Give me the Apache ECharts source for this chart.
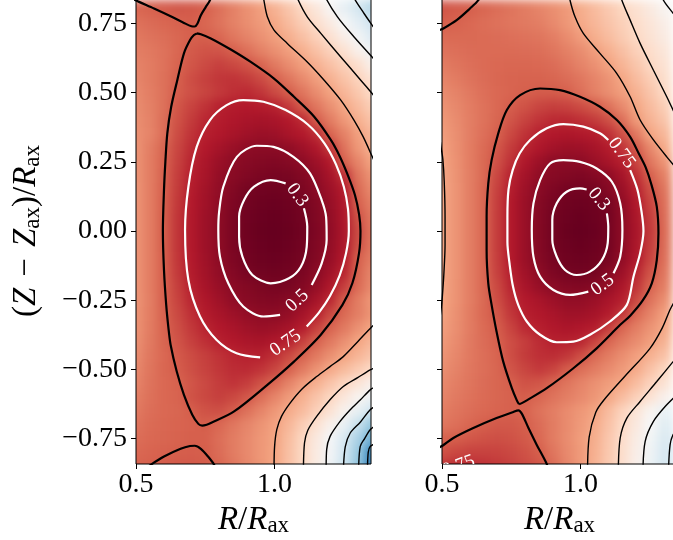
<!DOCTYPE html>
<html><head><meta charset="utf-8">
<script src="https://cdn.jsdelivr.net/npm/echarts@6/dist/echarts.min.js"></script>
<style>
html,body{margin:0;padding:0;background:#fff;}
#wrap{position:relative;width:673px;height:540px;overflow:hidden;background:#fff;}
.clip{position:absolute;overflow:hidden;}
.heat{position:absolute;width:673px;height:540px;filter:blur(5px);}
#topLayer{position:absolute;left:0;top:0;width:673px;height:540px;}
</style></head><body>
<div id="wrap">
  <div class="clip" style="left:136px;top:0;width:235px;height:464px;"><div class="heat" id="heatL" style="left:-136px;top:0;"></div></div>
  <div class="clip" style="left:442px;top:0;width:231px;height:464px;"><div class="heat" id="heatR" style="left:-442px;top:0;"></div></div>
  <div id="topLayer"></div>
</div>
<script>
// ---------------- data ----------------
const rCenters = [0.50,0.55,0.60,0.65,0.70,0.75,0.80,0.85,0.90,0.95,1.00,1.05,1.10,1.15,1.20,1.25,1.30,1.35];
const zCenters = [0.85,0.80,0.75,0.70,0.65,0.60,0.55,0.50,0.45,0.40,0.35,0.30,0.25,0.20,0.15,0.10,0.05,0.00,
  -0.05,-0.10,-0.15,-0.20,-0.25,-0.30,-0.35,-0.40,-0.45,-0.50,-0.55,-0.60,-0.65,-0.70,-0.75,-0.80,-0.85];

const leftPsi = [
[0.98,0.95,0.93,0.92,0.93,0.98,1.08,1.21,1.35,1.48,1.67,1.87,2.09,2.33,2.57,2.82,3.07,3.30],
[1.06,1.02,0.98,0.95,0.96,1.01,1.12,1.24,1.35,1.46,1.62,1.80,1.98,2.20,2.45,2.69,2.92,3.17],
[1.13,1.09,1.05,1.02,0.995,1.05,1.14,1.24,1.33,1.42,1.53,1.70,1.87,2.05,2.27,2.50,2.74,2.99],
[1.18,1.14,1.10,1.05,1.00,0.99,1.05,1.16,1.25,1.35,1.45,1.58,1.74,1.90,2.09,2.32,2.55,2.82],
[1.22,1.18,1.13,1.05,0.96,0.91,0.92,1.00,1.11,1.23,1.34,1.45,1.59,1.75,1.91,2.10,2.35,2.60],
[1.25,1.20,1.13,1.03,0.93,0.85,0.78,0.83,0.91,1.03,1.18,1.32,1.45,1.60,1.75,1.90,2.06,2.35],
[1.27,1.20,1.12,1.00,0.87,0.78,0.71,0.69,0.74,0.85,1.00,1.15,1.30,1.45,1.61,1.77,1.93,2.12],
[1.30,1.22,1.12,0.98,0.89,0.81,0.73,0.66,0.62,0.70,0.85,0.99,1.15,1.32,1.48,1.65,1.82,2.00],
[1.32,1.24,1.12,0.93,0.80,0.68,0.56,0.52,0.50,0.52,0.56,0.73,0.97,1.16,1.34,1.52,1.70,1.88],
[1.33,1.25,1.10,0.90,0.74,0.60,0.53,0.48,0.44,0.42,0.44,0.50,0.62,0.98,1.20,1.40,1.59,1.77],
[1.35,1.26,1.10,0.86,0.69,0.55,0.49,0.43,0.38,0.34,0.36,0.43,0.50,0.64,1.03,1.24,1.46,1.66],
[1.37,1.22,1.04,0.82,0.63,0.50,0.41,0.33,0.26,0.24,0.24,0.27,0.36,0.48,0.72,1.13,1.40,1.60],
[1.37,1.21,1.03,0.79,0.58,0.45,0.34,0.25,0.215,0.185,0.175,0.20,0.25,0.36,0.50,1.02,1.26,1.49],
[1.37,1.21,1.02,0.76,0.55,0.43,0.30,0.225,0.17,0.13,0.11,0.12,0.18,0.28,0.42,0.66,1.15,1.37],
[1.38,1.21,1.01,0.74,0.53,0.39,0.28,0.18,0.10,0.07,0.06,0.075,0.14,0.23,0.36,0.52,1.07,1.30],
[1.38,1.21,1.00,0.72,0.51,0.38,0.26,0.155,0.08,0.04,0.026,0.05,0.095,0.18,0.32,0.48,1.01,1.22],
[1.38,1.21,0.99,0.70,0.50,0.36,0.25,0.13,0.063,0.026,0.007,0.03,0.08,0.165,0.29,0.46,0.90,1.17],
[1.38,1.21,0.99,0.70,0.49,0.36,0.245,0.13,0.054,0.012,0.0,0.017,0.066,0.15,0.28,0.45,0.85,1.15],
[1.38,1.21,0.99,0.70,0.50,0.36,0.25,0.13,0.065,0.027,0.007,0.03,0.08,0.165,0.29,0.46,0.88,1.16],
[1.38,1.21,1.00,0.71,0.51,0.37,0.255,0.155,0.08,0.04,0.026,0.05,0.095,0.18,0.32,0.50,1.00,1.20],
[1.38,1.21,1.00,0.73,0.52,0.39,0.28,0.19,0.11,0.073,0.06,0.08,0.13,0.23,0.38,0.58,1.04,1.27],
[1.38,1.21,1.01,0.77,0.55,0.425,0.32,0.235,0.185,0.14,0.11,0.12,0.185,0.30,0.47,0.76,1.08,1.30],
[1.38,1.22,1.01,0.80,0.60,0.47,0.37,0.275,0.22,0.185,0.17,0.21,0.275,0.42,0.61,0.98,1.20,1.40],
[1.37,1.21,1.02,0.84,0.66,0.52,0.435,0.36,0.29,0.25,0.245,0.29,0.41,0.55,0.83,1.07,1.22,1.38],
[1.36,1.20,1.03,0.88,0.72,0.58,0.50,0.44,0.375,0.33,0.35,0.42,0.53,0.77,1.03,1.18,1.35,1.50],
[1.35,1.19,1.04,0.92,0.78,0.66,0.555,0.50,0.45,0.43,0.48,0.56,0.78,1.02,1.18,1.34,1.50,1.67],
[1.32,1.17,1.06,0.96,0.86,0.77,0.68,0.60,0.56,0.56,0.66,0.83,1.02,1.18,1.34,1.49,1.64,1.79],
[1.29,1.15,1.05,0.98,0.88,0.79,0.71,0.64,0.625,0.69,0.81,1.01,1.19,1.36,1.54,1.69,1.84,1.99],
[1.26,1.14,1.06,1.02,0.93,0.84,0.75,0.69,0.76,0.90,1.06,1.25,1.43,1.60,1.78,1.95,2.15,2.37],
[1.22,1.12,1.06,1.03,0.90,0.83,0.77,0.83,0.94,1.10,1.26,1.42,1.60,1.78,1.96,2.20,2.42,2.65],
[1.18,1.10,1.06,1.04,0.99,0.90,0.88,0.98,1.12,1.26,1.40,1.56,1.70,1.90,2.13,2.40,2.70,3.00],
[1.14,1.08,1.05,1.03,1.01,0.99,1.06,1.17,1.27,1.37,1.48,1.66,1.87,2.10,2.37,2.69,3.07,3.46],
[1.10,1.06,1.04,1.02,1.00,1.00,1.10,1.20,1.30,1.40,1.49,1.72,1.96,2.24,2.52,2.89,3.29,3.70],
[1.06,1.03,1.01,0.99,0.98,0.99,1.09,1.20,1.30,1.40,1.50,1.74,1.97,2.27,2.57,2.96,3.41,4.10],
[1.02,1.00,0.97,0.95,0.95,0.97,1.05,1.16,1.28,1.39,1.51,1.75,1.98,2.28,2.61,3.02,3.47,4.20]
];

const rightPsi = [
[0.86,0.89,0.94,1.01,1.08,1.15,1.23,1.31,1.38,1.47,1.60,1.73,1.87,2.00,2.17,2.34,2.50,2.67],
[0.93,0.97,1.00,1.05,1.10,1.15,1.20,1.26,1.33,1.42,1.57,1.70,1.83,1.96,2.10,2.25,2.42,2.58],
[0.99,1.02,1.06,1.10,1.13,1.16,1.19,1.22,1.30,1.40,1.54,1.66,1.78,1.90,2.03,2.18,2.32,2.47],
[1.08,1.07,1.07,1.08,1.09,1.11,1.13,1.15,1.21,1.31,1.43,1.58,1.71,1.85,1.98,2.13,2.27,2.41],
[1.14,1.11,1.09,1.08,1.08,1.08,1.09,1.10,1.15,1.23,1.32,1.44,1.59,1.74,1.90,2.04,2.19,2.34],
[1.20,1.15,1.11,1.08,1.06,1.05,1.05,1.06,1.09,1.16,1.25,1.35,1.48,1.64,1.80,1.97,2.12,2.28],
[1.26,1.20,1.14,1.09,1.05,1.03,1.02,1.02,1.04,1.09,1.16,1.26,1.37,1.52,1.70,1.87,2.05,2.22],
[1.32,1.25,1.18,1.11,1.06,1.03,1.00,0.97,0.97,1.00,1.11,1.23,1.34,1.45,1.61,1.79,1.98,2.17],
[1.37,1.29,1.21,1.13,1.06,0.98,0.90,0.81,0.77,0.79,0.86,0.96,1.12,1.30,1.51,1.70,1.88,2.07],
[1.41,1.32,1.22,1.13,1.04,0.92,0.79,0.69,0.62,0.61,0.66,0.74,0.88,1.11,1.41,1.62,1.79,1.97],
[1.45,1.34,1.22,1.11,1.01,0.83,0.68,0.555,0.50,0.47,0.49,0.53,0.66,0.89,1.17,1.50,1.67,1.83],
[1.48,1.35,1.21,1.08,0.94,0.74,0.58,0.48,0.40,0.35,0.36,0.42,0.52,0.69,0.96,1.28,1.55,1.70],
[1.50,1.36,1.21,1.07,0.89,0.67,0.48,0.35,0.25,0.24,0.25,0.33,0.43,0.54,0.80,1.16,1.38,1.58],
[1.52,1.37,1.22,1.07,0.82,0.56,0.405,0.27,0.21,0.18,0.15,0.19,0.26,0.42,0.65,1.00,1.23,1.45],
[1.52,1.38,1.22,1.06,0.78,0.53,0.36,0.235,0.15,0.09,0.084,0.10,0.20,0.34,0.55,0.88,1.15,1.38],
[1.52,1.38,1.22,1.06,0.76,0.50,0.34,0.20,0.11,0.06,0.04,0.06,0.105,0.27,0.48,0.80,1.11,1.34],
[1.52,1.38,1.22,1.06,0.75,0.50,0.33,0.19,0.088,0.04,0.01,0.04,0.09,0.25,0.45,0.75,1.09,1.31],
[1.52,1.38,1.22,1.06,0.75,0.50,0.33,0.185,0.085,0.02,0.0,0.023,0.09,0.25,0.44,0.72,1.08,1.30],
[1.52,1.38,1.22,1.06,0.75,0.50,0.33,0.19,0.088,0.04,0.01,0.04,0.09,0.25,0.45,0.75,1.09,1.31],
[1.52,1.38,1.22,1.06,0.76,0.50,0.34,0.20,0.11,0.06,0.04,0.06,0.11,0.28,0.48,0.80,1.11,1.34],
[1.52,1.38,1.22,1.06,0.78,0.54,0.38,0.25,0.15,0.09,0.08,0.10,0.20,0.36,0.59,0.91,1.16,1.40],
[1.52,1.37,1.22,1.06,0.83,0.585,0.44,0.32,0.235,0.19,0.17,0.20,0.31,0.46,0.69,1.03,1.22,1.45],
[1.51,1.37,1.22,1.07,0.87,0.65,0.51,0.44,0.36,0.29,0.29,0.34,0.44,0.54,0.84,1.13,1.33,1.55],
[1.49,1.35,1.20,1.06,0.93,0.71,0.55,0.49,0.44,0.37,0.37,0.42,0.52,0.71,1.06,1.25,1.46,1.65],
[1.46,1.34,1.20,1.08,0.98,0.80,0.62,0.55,0.49,0.455,0.48,0.53,0.75,1.05,1.22,1.37,1.52,1.67],
[1.42,1.31,1.19,1.09,1.01,0.87,0.76,0.64,0.56,0.56,0.60,0.80,1.05,1.19,1.32,1.45,1.62,1.80],
[1.38,1.28,1.18,1.10,1.03,0.87,0.74,0.66,0.64,0.71,0.87,1.07,1.20,1.33,1.46,1.60,1.76,1.93],
[1.34,1.25,1.17,1.10,1.04,0.92,0.81,0.73,0.80,0.97,1.10,1.20,1.31,1.42,1.55,1.76,1.96,2.18],
[1.30,1.22,1.15,1.09,1.04,1.00,0.90,0.93,1.04,1.15,1.25,1.35,1.44,1.53,1.71,1.92,2.13,2.33],
[1.26,1.19,1.13,1.08,1.04,1.01,0.99,1.05,1.14,1.22,1.30,1.39,1.52,1.71,1.90,2.12,2.36,2.58],
[1.22,1.15,1.10,1.06,1.03,1.01,1.03,1.13,1.22,1.31,1.40,1.49,1.70,1.93,2.17,2.42,2.65,2.87],
[1.17,1.11,1.05,0.99,0.95,0.95,0.99,1.09,1.20,1.31,1.42,1.55,1.76,1.99,2.24,2.50,2.76,3.03],
[1.02,0.99,0.94,0.90,0.88,0.90,0.96,1.06,1.20,1.32,1.44,1.58,1.81,2.04,2.30,2.56,2.84,3.12],
[0.90,0.83,0.79,0.79,0.80,0.84,0.90,0.99,1.15,1.30,1.42,1.60,1.82,2.05,2.33,2.61,2.89,3.17],
[0.72,0.65,0.64,0.67,0.72,0.78,0.85,0.93,1.09,1.27,1.42,1.62,1.84,2.08,2.36,2.64,2.92,3.20]
];

// contour lines, [R/Rax, (Z-Zax)/Rax]
const leftSepCore = [[0.72,0.714],[0.709,0.708],[0.695,0.69],[0.673,0.642],[0.649,0.545],[0.627,0.449],[0.613,0.353],[0.606,0.25],[0.601,0.148],[0.597,0.0],[0.601,-0.141],[0.609,-0.267],[0.617,-0.35],[0.625,-0.412],[0.647,-0.508],[0.673,-0.592],[0.703,-0.664],[0.725,-0.697],[0.739,-0.703],[0.755,-0.70],[0.77,-0.694],[0.854,-0.652],[0.974,-0.556],[1.07,-0.472],[1.167,-0.375],[1.245,-0.267],[1.281,-0.188],[1.305,-0.079],[1.31,0.0],[1.305,0.06],[1.29,0.13],[1.265,0.2],[1.235,0.27],[1.203,0.329],[1.143,0.413],[1.07,0.485],[0.998,0.551],[0.914,0.611],[0.842,0.656],[0.77,0.696],[0.734,0.711],[0.72,0.714]];
const leftSepTop = [[0.49,0.838],[0.511,0.828],[0.565,0.804],[0.625,0.776],[0.673,0.752],[0.700,0.740],[0.712,0.739],[0.722,0.75],[0.734,0.78],[0.752,0.81],[0.767,0.834],[0.776,0.87]];
const leftSepBottom = [[0.52,-0.87],[0.553,-0.845],[0.601,-0.815],[0.661,-0.787],[0.695,-0.777],[0.712,-0.776],[0.734,-0.787],[0.760,-0.815],[0.782,-0.845],[0.79,-0.87]];
const leftOuterTop = [
  [[0.955,0.87],[0.96,0.842],[0.974,0.774],[0.998,0.726],[1.046,0.678],[1.118,0.611],[1.179,0.545],[1.239,0.473],[1.287,0.40],[1.32,0.34],[1.352,0.27],[1.37,0.23]],
  [[1.075,0.87],[1.082,0.842],[1.118,0.774],[1.167,0.714],[1.239,0.629],[1.311,0.545],[1.352,0.497],[1.37,0.475]],
  [[1.178,0.87],[1.185,0.842],[1.227,0.774],[1.287,0.701],[1.352,0.629],[1.37,0.61]],
  [[1.28,0.87],[1.287,0.842],[1.323,0.786],[1.352,0.744],[1.37,0.72]]
];
const leftOuterBottom = [
  [[1.37,-0.33],[1.352,-0.345],[1.30,-0.40],[1.248,-0.454],[1.20,-0.49],[1.152,-0.526],[1.10,-0.57],[1.056,-0.622],[1.025,-0.67],[1.008,-0.718],[1.0,-0.78],[0.998,-0.87]],
  [[1.37,-0.49],[1.345,-0.502],[1.30,-0.53],[1.248,-0.562],[1.20,-0.61],[1.152,-0.67],[1.12,-0.72],[1.108,-0.766],[1.104,-0.87]],
  [[1.37,-0.56],[1.345,-0.574],[1.31,-0.61],[1.273,-0.646],[1.235,-0.69],[1.20,-0.743],[1.188,-0.79],[1.186,-0.87]],
  [[1.37,-0.63],[1.345,-0.646],[1.31,-0.69],[1.273,-0.73],[1.255,-0.78],[1.248,-0.87]],
  [[1.37,-0.70],[1.345,-0.718],[1.325,-0.75],[1.309,-0.779],[1.303,-0.87]],
  [[1.37,-0.765],[1.345,-0.779],[1.338,-0.80],[1.335,-0.87]]
];
const leftRing03 = [[1.040,0.172],[0.986,0.184],[0.926,0.160],[0.890,0.112],[0.872,0.052],[0.872,-0.021],[0.884,-0.093],[0.920,-0.159],[0.986,-0.189],[1.052,-0.171],[1.095,-0.129],[1.116,-0.057],[1.118,0.016],[1.106,0.082]];
const leftRing05 = [[1.134,-0.195],[1.170,-0.117],[1.188,-0.032],[1.186,0.05],[1.170,0.112],[1.128,0.208],[1.068,0.268],[0.996,0.304],[0.936,0.308],[0.864,0.268],[0.815,0.160],[0.800,0.07],[0.797,0.004],[0.803,-0.093],[0.833,-0.189],[0.887,-0.273],[0.960,-0.309],[1.020,-0.303]];
const leftRing075 = [[1.116,-0.345],[1.16,-0.295],[1.20,-0.235],[1.235,-0.16],[1.258,-0.08],[1.268,0.0],[1.265,0.08],[1.25,0.16],[1.222,0.24],[1.18,0.317],[1.12,0.385],[1.04,0.437],[0.96,0.467],[0.887,0.473],[0.827,0.455],[0.767,0.401],[0.719,0.304],[0.689,0.160],[0.677,0.004],[0.689,-0.177],[0.731,-0.309],[0.791,-0.394],[0.863,-0.442],[0.948,-0.457]];
const leftLabels = [['0.3',1.082,0.13,-54],['0.5',1.082,-0.252,43],['0.75',1.04,-0.405,34]];

const rightSepCore = [[0.778,-0.626],[0.770,-0.612],[0.752,-0.568],[0.721,-0.472],[0.697,-0.364],[0.679,-0.267],[0.667,-0.189],[0.661,-0.069],[0.661,0.052],[0.667,0.172],[0.679,0.256],[0.703,0.353],[0.734,0.437],[0.782,0.491],[0.854,0.515],[0.926,0.509],[0.998,0.485],[1.070,0.449],[1.131,0.401],[1.179,0.340],[1.21,0.28],[1.235,0.23],[1.255,0.17],[1.275,0.088],[1.281,-0.008],[1.275,-0.105],[1.257,-0.189],[1.225,-0.25],[1.18,-0.305],[1.143,-0.339],[1.058,-0.424],[0.974,-0.496],[0.878,-0.568],[0.806,-0.612],[0.788,-0.622],[0.778,-0.626]];
const rightSepBottom = [[0.49,-0.782],[0.503,-0.775],[0.541,-0.748],[0.613,-0.712],[0.697,-0.676],[0.755,-0.655],[0.776,-0.648],[0.788,-0.66],[0.812,-0.712],[0.842,-0.773],[0.878,-0.842],[0.886,-0.87]];
const rightSepTopLeft = [[0.49,0.726],[0.505,0.732],[0.553,0.762],[0.601,0.804],[0.631,0.834],[0.648,0.87]];
const rightOuterLeft = [[0.492,0.34],[0.497,0.30],[0.503,0.26],[0.508,0.18],[0.511,0.05],[0.511,-0.05],[0.507,-0.15],[0.501,-0.24],[0.497,-0.28],[0.492,-0.32]];
const rightOuterTop = [
  [[0.957,0.87],[0.962,0.834],[0.980,0.774],[1.010,0.714],[1.070,0.642],[1.131,0.569],[1.179,0.485],[1.215,0.401],[1.263,0.329],[1.311,0.268],[1.36,0.21]],
  [[1.14,0.87],[1.149,0.834],[1.179,0.762],[1.215,0.678],[1.263,0.581],[1.311,0.485],[1.334,0.437],[1.36,0.385]],
  [[1.29,0.87],[1.299,0.834],[1.334,0.787],[1.36,0.755]]
];
const rightOuterBottom = [
  [[1.36,-0.22],[1.325,-0.28],[1.295,-0.35],[1.25,-0.425],[1.16,-0.525],[1.085,-0.61],[1.055,-0.655],[1.031,-0.745],[1.025,-0.87]],
  [[1.36,-0.44],[1.334,-0.472],[1.275,-0.544],[1.215,-0.616],[1.167,-0.676],[1.143,-0.748],[1.136,-0.87]],
  [[1.36,-0.58],[1.311,-0.628],[1.263,-0.688],[1.233,-0.761],[1.225,-0.87]],
  [[1.36,-0.70],[1.334,-0.736],[1.323,-0.773],[1.317,-0.87]]
];
const rightRing03 = [[1.022,0.150],[0.998,0.154],[0.950,0.142],[0.914,0.100],[0.898,0.040],[0.898,-0.032],[0.914,-0.093],[0.944,-0.141],[0.986,-0.159],[1.034,-0.147],[1.077,-0.105],[1.098,-0.044],[1.100,0.016],[1.095,0.064]];
const rightRing05 = [[1.028,-0.219],[0.962,-0.231],[0.902,-0.213],[0.854,-0.165],[0.830,-0.093],[0.824,0.004],[0.830,0.100],[0.854,0.184],[0.890,0.244],[0.938,0.256],[0.998,0.250],[1.058,0.226],[1.113,0.178],[1.143,0.100],[1.151,0.004],[1.143,-0.093],[1.119,-0.153]];
const rightRing075 = [[1.179,0.22],[1.205,0.15],[1.22,0.07],[1.227,0.0],[1.215,-0.08],[1.191,-0.165],[1.167,-0.267],[1.106,-0.327],[1.034,-0.375],[0.974,-0.400],[0.914,-0.402],[0.854,-0.375],[0.806,-0.327],[0.775,-0.267],[0.756,-0.2],[0.744,-0.12],[0.736,-0.04],[0.736,0.05],[0.74,0.15],[0.755,0.22],[0.78,0.28],[0.818,0.329],[0.878,0.371],[0.938,0.386],[1.010,0.377],[1.070,0.353],[1.100,0.329]];
const rightLabels = [['0.3',1.066,0.115,-50],['0.5',1.08,-0.195,36],['0.75',1.148,0.282,-54],['0.75',0.56,-0.849,20]];

const xTickValues = [0.5, 1.0];
const yTickValues = [-0.75, -0.5, -0.25, 0, 0.25, 0.5, 0.75];

// ---------------- presentation ----------------
const RDBU_R = ['#67001f','#b2182b','#d6604d','#f4a582','#fddbc7','#f7f7f7','#d1e5f0','#92c5de','#4393c3','#2166ac','#053061'];
const FONT = "'Liberation Serif','DejaVu Serif',serif";
const X_MIN = 0.5, X_MAX = 1.348, Y_MIN = -0.842, Y_MAX = 0.842;
const GRIDS = [{left:136, top:-2, width:235, height:466},{left:442, top:-2, width:235, height:466}];

function makeHeat(el, gridPos, psi) {
  const nC = rCenters.length, nR = zCenters.length;
  const dR = rCenters[1] - rCenters[0], dZ = zCenters[0] - zCenters[1];
  const ext = 0.06;
  const data = [];
  psi.forEach((row, j) => row.forEach((v, i) => data.push([rCenters[i], zCenters[j], v, i, j])));
  const chart = echarts.init(el, null, {renderer:'canvas', width:673, height:540});
  chart.setOption({
    animation:false,
    grid:Object.assign({show:false, outerBoundsMode:'none', containLabel:false}, gridPos),
    xAxis:{type:'value', min:X_MIN, max:X_MAX, show:false},
    yAxis:{type:'value', min:Y_MIN, max:Y_MAX, show:false},
    visualMap:{type:'continuous', show:false, min:0, max:5, dimension:2, seriesIndex:0, inRange:{color:RDBU_R}},
    series:[{type:'custom', clip:false, encode:{x:0, y:1}, data:data,
      renderItem:function(params, api){
        const r = api.value(0), z = api.value(1), i = api.value(3), j = api.value(4);
        let x0 = r - dR/2, x1 = r + dR/2, yt = z + dZ/2, yb = z - dZ/2;
        if (i === 0) x0 -= ext; if (i === nC-1) x1 += ext;
        if (j === 0) yt += ext; if (j === nR-1) yb -= ext;
        const a = api.coord([x0, yt]), b = api.coord([x1, yb]);
        return {type:'rect', shape:{x:a[0], y:a[1], width:b[0]-a[0]+1, height:b[1]-a[1]+1},
          style:{fill:api.visual('color')}};
      }}]
  });
}
makeHeat(document.getElementById('heatL'), GRIDS[0], leftPsi);
makeHeat(document.getElementById('heatR'), GRIDS[1], rightPsi);

function lineS(gi, pts, color, width) {
  return {type:'line', xAxisIndex:gi, yAxisIndex:gi, data:pts, symbol:'none', showSymbol:false,
    smooth:0.3, clip:true, silent:true, z:3, lineStyle:{color:color, width:width}};
}
function labelS(gi, labels) {
  return {type:'custom', xAxisIndex:gi, yAxisIndex:gi, clip:true, silent:true, z:6,
    encode:{x:0, y:1},
    data:labels.map((l, k) => [l[1], l[2], k]),
    renderItem:function(params, api){
      const l = labels[api.value(2)];
      const p = api.coord([api.value(0), api.value(1)]);
      return {type:'text', x:p[0], y:p[1], rotation:l[3] * Math.PI / 180,
        style:{text:l[0], fill:'#ffffff', fontFamily:FONT, fontSize:19,
          align:'center', verticalAlign:'middle', textAlign:'center', textVerticalAlign:'middle'}};
    }};
}
const WHITE = '#ffffff', BLACK = '#000000';
const seriesList = [];
[[0, leftSepCore, leftSepTop, leftSepBottom, leftRing03, leftRing05, leftRing075, leftLabels],
 [1, rightSepCore, rightSepTopLeft, rightSepBottom, rightRing03, rightRing05, rightRing075, rightLabels]].forEach(p => {
  const gi = p[0];
  seriesList.push(lineS(gi, p[4], WHITE, 2.2), lineS(gi, p[5], WHITE, 2.2), lineS(gi, p[6], WHITE, 2.2));
  seriesList.push(lineS(gi, p[1], BLACK, 2.2), lineS(gi, p[2], BLACK, 2.2), lineS(gi, p[3], BLACK, 2.2));
  seriesList.push(labelS(gi, p[7]));
});
leftOuterTop.concat(leftOuterBottom).forEach(l => seriesList.push(lineS(0, l, BLACK, 1.4)));
rightOuterTop.concat(rightOuterBottom, [rightOuterLeft]).forEach(l => seriesList.push(lineS(1, l, BLACK, 1.4)));

const NAME_SIZE = 33, SUB_SIZE = 23;
const richName = {
  i:{fontFamily:FONT, fontSize:NAME_SIZE, fontStyle:'italic', color:'#000'},
  s:{fontFamily:FONT, fontSize:SUB_SIZE, color:'#000', padding:[12,0,0,0], verticalAlign:'bottom'}
};
function xAx(gi) {
  return {gridIndex:gi, type:'value', min:X_MIN, max:X_MAX,
    axisLine:{show:false, onZero:false}, splitLine:{show:false},
    axisTick:{show:true, inside:false, length:5, lineStyle:{color:'#000', width:1}, customValues:xTickValues},
    axisLabel:{show:true, customValues:xTickValues, formatter:v => Number(v).toFixed(1), color:'#000', fontFamily:FONT, fontSize:28, margin:7},
    name:'{i|R}/{i|R}{s|ax}', nameLocation:'middle', nameGap:29,
    nameTextStyle:{fontFamily:FONT, fontSize:NAME_SIZE, color:'#000', rich:richName}};
}
function yAx(gi) {
  const o = {gridIndex:gi, type:'value', min:Y_MIN, max:Y_MAX,
    axisLine:{show:false, onZero:false}, splitLine:{show:false},
    axisTick:{show:true, inside:false, length:5, lineStyle:{color:'#000', width:1}, customValues:yTickValues},
    axisLabel:{show:gi === 0, customValues:yTickValues,
      formatter:v => (v < 0 ? '\u2212' : '') + Math.abs(v).toFixed(2), color:'#000', fontFamily:FONT, fontSize:28, margin:9}};
  if (gi === 0) {
    o.name = '({i|Z}\u2004\u2212\u2004{i|Z}{s|ax})/{i|R}{s|ax}';
    o.nameLocation = 'middle'; o.nameGap = 92; o.nameRotate = 90;
    o.nameTextStyle = {fontFamily:FONT, fontSize:NAME_SIZE, color:'#000', rich:richName};
  }
  return o;
}
const topChart = echarts.init(document.getElementById('topLayer'), null, {renderer:'canvas', width:673, height:540});
topChart.setOption({
  animation:false, backgroundColor:'transparent',
  grid:GRIDS.map(g => Object.assign({show:true, borderColor:'#000', borderWidth:1, backgroundColor:'transparent', outerBoundsMode:'none', containLabel:false}, g)),
  xAxis:[xAx(0), xAx(1)], yAxis:[yAx(0), yAx(1)],
  series:seriesList
});
</script>
</body></html>
